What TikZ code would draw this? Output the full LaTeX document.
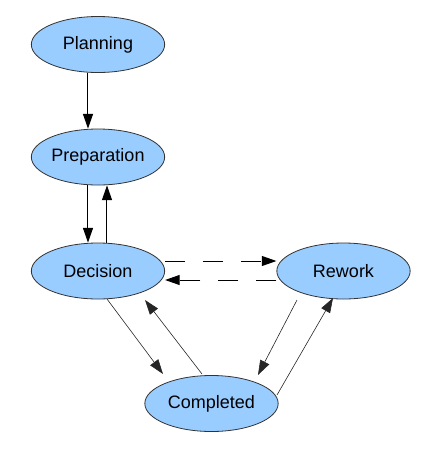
\documentclass[tikz,border=0pt]{standalone}
\usepackage{fontspec}
\setmainfont{Liberation Sans}
\usetikzlibrary{shapes.geometric,arrows.meta}
\definecolor{stateblue}{RGB}{153,204,255}
\begin{document}
\begin{tikzpicture}[x=0.75pt,y=-0.75pt,
  state/.style={ellipse,draw=black!80,line width=0.6pt,fill=stateblue,
    minimum width=100pt,minimum height=42pt,inner sep=0pt,font=\fontsize{13.5}{16}\selectfont},
  flow/.style={-{Triangle[length=11pt,width=7.5pt]},line width=0.75pt},
  thinflow/.style={-{Triangle[length=11pt,width=7.5pt]},line width=0.45pt,draw=black!85},
  back/.style={flow,dash pattern=on 15pt off 13.5pt}]
\useasboundingbox (0,0) rectangle (427,455);
\node[state] (plan) at (98,44.5) {Planning};
\node[state] (prep) at (98,157) {Preparation};
\node[state] (dec) at (98,271) {Decision};
\node[state] (rew) at (343.5,271) {Rework};
\node[state] (comp) at (211.5,403.5) {Completed};
\draw[flow] ([xshift=-7.5pt]plan.south) -- ([xshift=-7.5pt]prep.north);
\draw[flow] ([xshift=-7.5pt]prep.south) -- ([xshift=-7.5pt]dec.north);
\draw[flow] ([xshift=6.75pt]dec.north) -- ([xshift=6.75pt]prep.south);
\draw[back] ([yshift=7.5pt]dec.east) -- ([yshift=7.5pt]rew.west);
\draw[back] ([yshift=-6.75pt]rew.west) -- ([yshift=-6.75pt]dec.east);
\draw[thinflow] ([shift={(9,28)}]dec.center) -- ([shift={(-48.5,-29.5)}]comp.center);
\draw[thinflow] ([shift={(-9.5,-29.5)}]comp.center) -- ([shift={(47,29)}]dec.center);
\draw[thinflow] ([shift={(-46.5,29)}]rew.center) -- ([shift={(46.5,-28.5)}]comp.center);
\draw[thinflow] ([shift={(65.5,-8.5)}]comp.center) -- ([shift={(-10.5,27)}]rew.center);
\end{tikzpicture}
\end{document}
